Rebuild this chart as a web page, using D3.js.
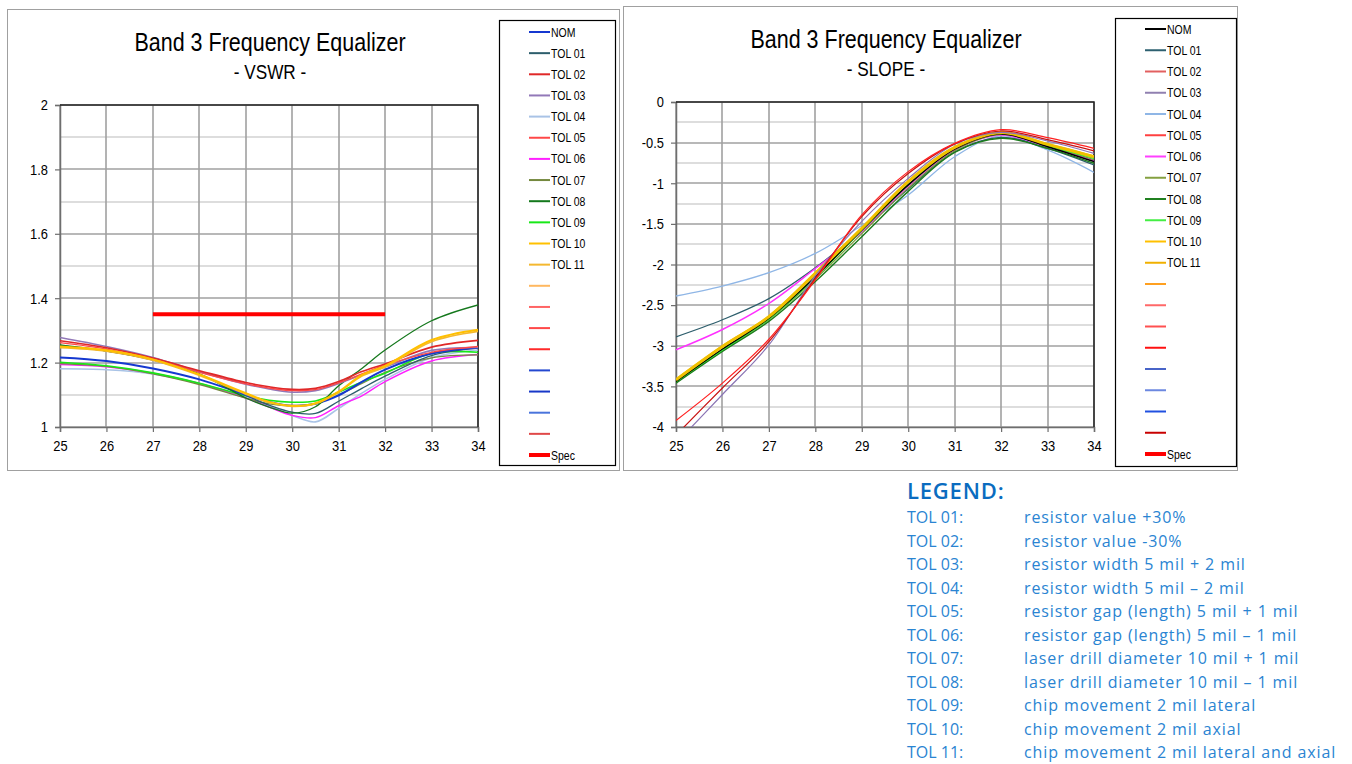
<!DOCTYPE html>
<html>
<head>
<meta charset="utf-8">
<script src="https://cdn.jsdelivr.net/npm/d3@7"></script>
<style>
  html, body { margin: 0; padding: 0; background: #fff; }
  svg { display: block; }
  .narrow { font-family: "Liberation Sans", Arial, sans-serif; }
  .note { font-family: "Open Sans", "Noto Sans", sans-serif; }
</style>
</head>
<body>
<svg id="page" width="1352" height="764"></svg>
<script>
// ---- Series names (legend order) ----
const seriesNames = ["NOM", "TOL 01", "TOL 02", "TOL 03", "TOL 04", "TOL 05",
                     "TOL 06", "TOL 07", "TOL 08", "TOL 09", "TOL 10", "TOL 11"];

// ---- VSWR chart ----
const vswrFreq = [25, 26, 27, 28, 29, 29.5, 30, 30.5, 31, 31.5, 32, 33, 34];
const vswrNOM   = [1.216, 1.205, 1.182, 1.148, 1.100, 1.078, 1.066, 1.072, 1.098, 1.140, 1.178, 1.228, 1.246];
const vswrTOL01 = [1.253, 1.236, 1.208, 1.163, 1.098, 1.068, 1.046, 1.042, 1.080, 1.120, 1.158, 1.222, 1.245];
const vswrTOL02 = [1.268, 1.246, 1.214, 1.175, 1.138, 1.125, 1.117, 1.120, 1.141, 1.172, 1.196, 1.248, 1.269];
const vswrTOL03 = [1.278, 1.250, 1.216, 1.172, 1.133, 1.118, 1.108, 1.113, 1.135, 1.162, 1.186, 1.238, 1.247];
const vswrTOL04 = [1.181, 1.178, 1.165, 1.135, 1.093, 1.065, 1.036, 1.016, 1.058, 1.105, 1.148, 1.215, 1.239];
const vswrTOL05 = [1.262, 1.242, 1.210, 1.170, 1.134, 1.121, 1.113, 1.116, 1.137, 1.165, 1.192, 1.232, 1.250];
const vswrTOL06 = [1.194, 1.187, 1.167, 1.135, 1.090, 1.062, 1.036, 1.029, 1.066, 1.097, 1.141, 1.205, 1.225];
const vswrTOL07 = [1.197, 1.188, 1.165, 1.132, 1.090, 1.072, 1.066, 1.072, 1.100, 1.135, 1.170, 1.215, 1.224];
const vswrTOL08 = [1.255, 1.236, 1.209, 1.165, 1.090, 1.062, 1.043, 1.063, 1.128, 1.182, 1.239, 1.330, 1.379];
const vswrTOL09 = [1.201, 1.190, 1.168, 1.136, 1.097, 1.083, 1.077, 1.081, 1.108, 1.140, 1.167, 1.229, 1.232];
const vswrTOL10 = [1.250, 1.238, 1.210, 1.163, 1.105, 1.078, 1.066, 1.074, 1.110, 1.162, 1.190, 1.270, 1.302];
const vswrTOL11 = [1.246, 1.235, 1.207, 1.160, 1.102, 1.076, 1.064, 1.072, 1.108, 1.158, 1.186, 1.265, 1.297];
const vswrSeries = [vswrNOM, vswrTOL01, vswrTOL02, vswrTOL03, vswrTOL04, vswrTOL05,
                    vswrTOL06, vswrTOL07, vswrTOL08, vswrTOL09, vswrTOL10, vswrTOL11];
const vswrSpecFreq = [27, 32];
const vswrSpecValue = [1.35, 1.35];
const vswrTicks = [1, 1.2, 1.4, 1.6, 1.8, 2];

// ---- SLOPE chart ----
const slopeFreq = [25, 26, 27, 28, 29, 30, 31, 32, 33, 34];
const slopeNOM   = [-3.44, -3.04, -2.66, -2.15, -1.575, -1.02, -0.58, -0.394, -0.55, -0.734];
const slopeTOL01 = [-2.89, -2.68, -2.42, -2.04, -1.58, -1.07, -0.615, -0.435, -0.57, -0.775];
const slopeTOL02 = [-4.10, -3.52, -2.95, -2.17, -1.41, -0.88, -0.515, -0.357, -0.464, -0.603];
const slopeTOL03 = [-4.20, -3.60, -2.99, -2.14, -1.47, -0.94, -0.52, -0.373, -0.48, -0.632];
const slopeTOL04 = [-2.388, -2.265, -2.10, -1.863, -1.52, -1.145, -0.673, -0.418, -0.59, -0.866];
const slopeTOL05 = [-3.92, -3.46, -2.92, -2.19, -1.39, -0.857, -0.509, -0.341, -0.439, -0.57];
const slopeTOL06 = [-3.05, -2.80, -2.48, -2.05, -1.60, -1.04, -0.59, -0.406, -0.55, -0.72];
const slopeTOL07 = [-3.45, -3.06, -2.68, -2.18, -1.62, -1.06, -0.60, -0.40, -0.54, -0.71];
const slopeTOL08 = [-3.46, -3.07, -2.70, -2.21, -1.657, -1.10, -0.62, -0.447, -0.57, -0.755];
const slopeTOL09 = [-3.44, -3.05, -2.67, -2.16, -1.58, -1.02, -0.57, -0.386, -0.537, -0.693];
const slopeTOL10 = [-3.42, -3.01, -2.642, -2.109, -1.555, -0.98, -0.558, -0.377, -0.521, -0.673];
const slopeTOL11 = [-3.41, -3.00, -2.635, -2.10, -1.55, -0.975, -0.555, -0.375, -0.515, -0.665];
const slopeSeries = [slopeNOM, slopeTOL01, slopeTOL02, slopeTOL03, slopeTOL04, slopeTOL05,
                     slopeTOL06, slopeTOL07, slopeTOL08, slopeTOL09, slopeTOL10, slopeTOL11];
const slopeTicks = [-4, -3.5, -3, -2.5, -2, -1.5, -1, -0.5, 0];

const freqTicks = [25, 26, 27, 28, 29, 30, 31, 32, 33, 34];

// ---- Tolerance descriptions ----
const tolLabels = ["TOL 01:", "TOL 02:", "TOL 03:", "TOL 04:", "TOL 05:", "TOL 06:",
                   "TOL 07:", "TOL 08:", "TOL 09:", "TOL 10:", "TOL 11:"];
const tolText = ["resistor value +30%", "resistor value -30%", "resistor width 5 mil + 2 mil",
                 "resistor width 5 mil \u2013 2 mil", "resistor gap (length) 5 mil + 1 mil",
                 "resistor gap (length) 5 mil \u2013 1 mil", "laser drill diameter 10 mil + 1 mil",
                 "laser drill diameter 10 mil \u2013 1 mil", "chip movement 2 mil lateral",
                 "chip movement 2 mil axial", "chip movement 2 mil lateral and axial"];

// ---- Styles ----
const vswrColors = ["#1538d0", "#2d5e6c", "#e02828", "#9278b8", "#a9c3e6", "#ff4848",
                    "#ff20ff", "#74883e", "#14781c", "#18e818", "#ffc000", "#f4b830"];
const vswrWidths = [2, 1.3, 1.6, 1.6, 1.6, 1.3, 1.4, 1.3, 1.3, 1.6, 2, 1.6];
const vswrExtraColors = ["#ffb860", "#ff6464", "#ff4848", "#ff2a2a", "#2448d0", "#1838c8", "#4a74dc", "#e04848"];

const slopeColors = ["#000000", "#2d5e6c", "#c81010", "#8a74b4", "#8fb6e6", "#ff2020",
                     "#ff30ff", "#7c9a3c", "#1c7c1c", "#36ee36", "#f0c000", "#f6b420"];
const slopeWidths = [1.5, 1.3, 1.2, 1.2, 1.3, 1.2, 1.4, 1.2, 1.4, 1.6, 3, 1.4];
const slopeLegendColors = ["#000000", "#2d6070", "#e26060", "#9080b0", "#8fb6e6", "#ff4040",
                           "#ff40ff", "#84a040", "#208020", "#44ee44", "#ffc000", "#f0b000"];
const slopeExtraColors = ["#ffa020", "#ff6868", "#ff5050", "#ff1010", "#4864c8", "#6c88e0", "#2050e0", "#c80000"];

const squeeze = 0.86;   // horizontal compression for the condensed chart lettering

const svg = d3.select("#page");

function drawChart(cfg) {
  const g = svg.append("g");

  // outer chart frame
  g.append("rect").attr("x", cfg.frame[0] + 0.5).attr("y", cfg.frame[1] + 0.5)
    .attr("width", cfg.frame[2] - cfg.frame[0]).attr("height", cfg.frame[3] - cfg.frame[1])
    .attr("fill", "#fff").attr("stroke", "#a0a0a0").attr("stroke-width", 1);

  // titles
  g.append("text").attr("class", "narrow")
    .attr("transform", `translate(${cfg.titleX},${cfg.titleY}) scale(${squeeze},1)`)
    .attr("text-anchor", "middle").attr("font-size", 25).attr("fill", "#000")
    .text("Band 3 Frequency Equalizer");
  g.append("text").attr("class", "narrow")
    .attr("transform", `translate(${cfg.titleX},${cfg.titleY + 28}) scale(${squeeze},1)`)
    .attr("text-anchor", "middle").attr("font-size", 20).attr("fill", "#000")
    .text(cfg.subtitle);

  const x = d3.scaleLinear().domain([25, 34]).range([cfg.plot[0], cfg.plot[1]]);
  const y = d3.scaleLinear().domain(cfg.yDomain).range([cfg.plot[3], cfg.plot[2]]);

  // minor horizontal grid
  g.append("g").selectAll("line").data(cfg.minorTicks).join("line")
    .attr("x1", cfg.plot[0]).attr("x2", cfg.plot[1])
    .attr("y1", d => Math.round(y(d))).attr("y2", d => Math.round(y(d)))
    .attr("stroke", "#d2d2d2").attr("stroke-width", 1.6);
  // major horizontal grid
  g.append("g").selectAll("line").data(cfg.yTicks).join("line")
    .attr("x1", cfg.plot[0]).attr("x2", cfg.plot[1])
    .attr("y1", d => Math.round(y(d))).attr("y2", d => Math.round(y(d)))
    .attr("stroke", "#a0a0a0").attr("stroke-width", 1.6);
  // vertical grid
  g.append("g").selectAll("line").data(freqTicks).join("line")
    .attr("x1", d => Math.round(x(d))).attr("x2", d => Math.round(x(d)))
    .attr("y1", cfg.plot[2]).attr("y2", cfg.plot[3])
    .attr("stroke", "#a0a0a0").attr("stroke-width", 1.6);

  // axes
  const yAxis = d3.axisLeft(y).tickValues(cfg.yTicks).tickSize(5).tickPadding(9)
    .tickFormat(d => String(d));
  const gy = g.append("g").attr("transform", `translate(${cfg.plot[0]},0)`).call(yAxis);
  const xAxis = d3.axisBottom(x).tickValues(freqTicks).tickSize(5).tickPadding(8)
    .tickFormat(d3.format("d"));
  const gx = g.append("g").attr("transform", `translate(0,${cfg.plot[3]})`).call(xAxis);
  [gx, gy].forEach(a => {
    a.select(".domain").attr("stroke", "#6e6e6e").attr("stroke-width", 1.5);
    a.selectAll(".tick line").attr("stroke", "#6e6e6e").attr("stroke-width", 1.2);
    a.selectAll(".tick text").attr("class", "narrow").attr("font-size", 15).attr("fill", "#000")
      .attr("transform", `scale(${squeeze},1)`);
  });
  // top and right border
  g.append("path")
    .attr("d", `M${cfg.plot[0]},${cfg.plot[2]}H${cfg.plot[1]}V${cfg.plot[3]}`)
    .attr("fill", "none").attr("stroke", "#222").attr("stroke-width", 1.5);

  // clipped series
  const clipId = "clip-" + cfg.id;
  g.append("clipPath").attr("id", clipId).append("rect")
    .attr("x", cfg.plot[0]).attr("y", cfg.plot[2])
    .attr("width", cfg.plot[1] - cfg.plot[0]).attr("height", cfg.plot[3] - cfg.plot[2]);

  const line = d3.line().x(d => x(d[0])).y(d => y(d[1])).curve(d3.curveCatmullRom.alpha(0.5));
  const lines = g.append("g").attr("clip-path", `url(#${clipId})`);
  cfg.order.forEach(i => {
    const pts = cfg.freq.map((f, k) => [f, cfg.series[i][k]]);
    lines.append("path").attr("d", line(pts)).attr("fill", "none")
      .attr("stroke", cfg.colors[i]).attr("stroke-width", cfg.widths[i]);
  });
  if (cfg.spec) {
    const specPts = cfg.spec[0].map((f, k) => [f, cfg.spec[1][k]]);
    g.append("path").attr("d", d3.line().x(d => x(d[0])).y(d => y(d[1]))(specPts))
      .attr("fill", "none").attr("stroke", "#ff0000").attr("stroke-width", 4);
  }

  // legend box
  const L = cfg.legend;
  g.append("rect").attr("x", L.x + 0.5).attr("y", L.y + 0.5).attr("width", L.w).attr("height", L.h)
    .attr("fill", "#fff").attr("stroke", "#000").attr("stroke-width", 1.2);
  const entries = seriesNames.map((n, i) => ({ name: n, color: cfg.legendColors[i], w: 2 }))
    .concat(cfg.extraColors.map(c => ({ name: "", color: c, w: 2 })))
    .concat([{ name: "Spec", color: "#ff0000", w: 4 }]);
  const le = g.append("g").selectAll("g").data(entries).join("g")
    .attr("transform", (d, i) => `translate(${L.sx},${L.first + i * L.step})`);
  le.append("line").attr("x1", 0).attr("x2", 21).attr("y1", 0).attr("y2", 0)
    .attr("stroke", d => d.color).attr("stroke-width", d => d.w);
  le.append("text").attr("class", "narrow")
    .attr("transform", `translate(22,4.5) scale(0.84,1)`)
    .attr("font-size", 12.5).attr("fill", "#000").text(d => d.name);
}

drawChart({
  id: "vswr", frame: [7, 9, 619, 470], titleX: 270, titleY: 51, subtitle: "- VSWR -",
  plot: [60, 478, 105, 427], yDomain: [1, 2], yTicks: vswrTicks,
  minorTicks: [1.1, 1.3, 1.5, 1.7, 1.9],
  freq: vswrFreq, series: vswrSeries, colors: vswrColors, widths: vswrWidths,
  order: [4, 6, 7, 9, 1, 0, 8, 3, 5, 2, 11, 10],
  spec: [vswrSpecFreq, vswrSpecValue],
  legend: { x: 499, y: 20, w: 116, h: 445, sx: 529, first: 32, step: 21.15 },
  legendColors: vswrColors, extraColors: vswrExtraColors
});

drawChart({
  id: "slope", frame: [623, 6, 1237, 470], titleX: 886, titleY: 48, subtitle: "- SLOPE -",
  plot: [676, 1094, 102, 427], yDomain: [-4, 0], yTicks: slopeTicks,
  minorTicks: [-3.75, -3.25, -2.75, -2.25, -1.75, -1.25, -0.75, -0.25],
  freq: slopeFreq, series: slopeSeries, colors: slopeColors, widths: slopeWidths,
  order: [4, 1, 6, 7, 8, 9, 0, 11, 10, 3, 2, 5],
  spec: null,
  legend: { x: 1115, y: 18, w: 121, h: 448, sx: 1145, first: 29, step: 21.25 },
  legendColors: slopeLegendColors, extraColors: slopeExtraColors
});

// ---- Tolerance description block ----
const notes = svg.append("g");
notes.append("text").attr("class", "note").attr("x", 907).attr("y", 499)
  .attr("font-size", 22).attr("font-weight", 600).attr("letter-spacing", 0.8)
  .attr("fill", "#0a6cc0").text("LEGEND:");
tolLabels.forEach((t, i) => {
  const yy = 523 + i * 23.5;
  notes.append("text").attr("class", "note").attr("x", 907).attr("y", yy)
    .attr("font-size", 16).attr("fill", "#2a84d2").text(t);
  notes.append("text").attr("class", "note").attr("x", 1024).attr("y", yy)
    .attr("font-size", 16).attr("letter-spacing", 0.9).attr("fill", "#2a84d2").text(tolText[i]);
});
</script>
</body>
</html>
